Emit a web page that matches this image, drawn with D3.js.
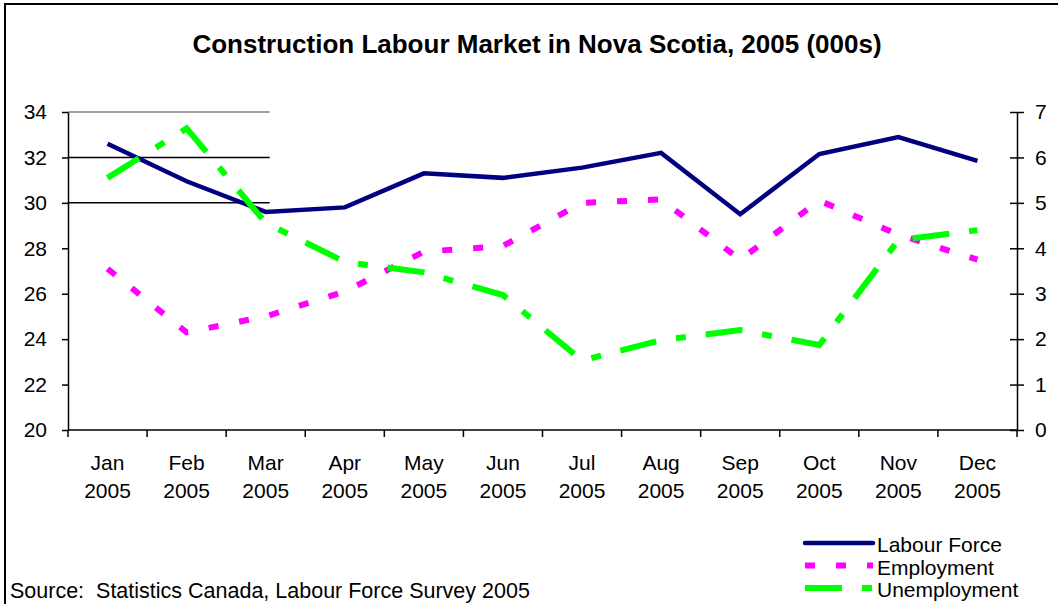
<!DOCTYPE html>
<html>
<head>
<meta charset="utf-8">
<script src="https://cdn.jsdelivr.net/npm/d3@7"></script>
<style>
  html, body { margin: 0; padding: 0; background: #fff; }
  svg { display: block; font-family: "Liberation Sans", Arial, sans-serif; }
</style>
</head>
<body>
<svg id="chart" width="1058" height="604"></svg>
<script>
// values
const months = ["Jan","Feb","Mar","Apr","May","Jun","Jul","Aug","Sep","Oct","Nov","Dec"];
const yearLabel = "2005";
const labourForce  = [32.6, 30.95, 29.6, 29.8, 31.3, 31.1, 31.55, 32.2, 29.5, 32.15, 32.9, 31.85];
const employment   = [27.1, 24.3, 25.0, 26.1, 27.85, 28.1, 30.0, 30.15, 27.5, 30.1, 28.6, 27.5];
const unemployment = [5.55, 6.64, 4.56, 3.7, 3.47, 2.97, 1.53, 1.98, 2.2, 1.87, 4.18, 4.4];
const leftTicks  = [20, 22, 24, 26, 28, 30, 32, 34];
const rightTicks = [0, 1, 2, 3, 4, 5, 6, 7];
const gridTicks  = [30, 32, 34];

const svg = d3.select("#chart");
const plotL = 68, plotR = 1017, plotT = 112, plotB = 430;
const FONT = "Liberation Sans, Arial, sans-serif";

const xBand  = d3.scaleBand().domain(months).range([plotL, plotR]);
const xPoint = d3.scalePoint().domain(months).range([plotL, plotR]).padding(0.5);
const yLeft  = d3.scaleLinear().domain([20, 34]).range([plotB, plotT]);
const yRight = d3.scaleLinear().domain([0, 7]).range([plotB, plotT]);

// outer frame
svg.append("rect")
  .attr("x", 5).attr("y", 4).attr("width", 1060).attr("height", 610)
  .attr("fill", "none").attr("stroke", "#000").attr("stroke-width", 2);

// title
svg.append("text")
  .attr("x", 537).attr("y", 53)
  .attr("text-anchor", "middle")
  .attr("font-size", 26).attr("font-weight", "bold")
  .text("Construction Labour Market in Nova Scotia, 2005 (000s)");

// partial gridlines (as in the original)
const gridEnd = plotL + xBand.step() * 2.55;
svg.append("g").selectAll("line").data(gridTicks).join("line")
  .attr("x1", plotL).attr("x2", gridEnd)
  .attr("y1", d => yLeft(d)).attr("y2", d => yLeft(d))
  .attr("stroke", d => d === 34 ? "#808080" : "#000")
  .attr("stroke-width", 1.5);

// left axis
const gLeft = svg.append("g")
  .attr("transform", `translate(${plotL},0)`)
  .call(d3.axisLeft(yLeft).tickValues(leftTicks).tickSize(6).tickPadding(15).tickSizeOuter(0));
gLeft.selectAll("text").attr("font-size", 21).attr("fill", "#000").attr("font-family", FONT);
gLeft.selectAll("line, path").attr("stroke", "#000").attr("stroke-width", 1.5);

// right axis with crossing ticks
const gRight = svg.append("g")
  .attr("transform", `translate(${plotR},0)`)
  .call(d3.axisRight(yRight).tickValues(rightTicks).tickFormat(d3.format("d"))
    .tickSize(7).tickPadding(11).tickSizeOuter(0));
gRight.selectAll(".tick line").attr("x1", -7);
gRight.selectAll("text").attr("font-size", 21).attr("fill", "#000").attr("font-family", FONT);
gRight.selectAll("line, path").attr("stroke", "#000").attr("stroke-width", 1.5);

// bottom axis: line plus ticks at category boundaries
const gBottom = svg.append("g");
gBottom.append("line")
  .attr("x1", plotL).attr("x2", plotR).attr("y1", plotB).attr("y2", plotB)
  .attr("stroke", "#000").attr("stroke-width", 1.5);
gBottom.selectAll("line.tk").data([...months.map(m => xBand(m)), plotR]).join("line")
  .attr("class", "tk")
  .attr("x1", d => d).attr("x2", d => d)
  .attr("y1", plotB).attr("y2", plotB + 7)
  .attr("stroke", "#000").attr("stroke-width", 1.5);
const labels = gBottom.selectAll("text").data(months).join("text")
  .attr("text-anchor", "middle")
  .attr("font-size", 21);
labels.append("tspan").attr("x", d => xPoint(d)).attr("y", 470).text(d => d);
labels.append("tspan").attr("x", d => xPoint(d)).attr("y", 498).text(yearLabel);

// series
const series = [
  { name: "Labour Force", values: labourForce,  y: yLeft,  color: "#000080", width: 4.5, dash: null },
  { name: "Employment",   values: employment,   y: yLeft,  color: "#FF00FF", width: 6,   dash: "10,21" },
  { name: "Unemployment", values: unemployment, y: yRight, color: "#00FF00", width: 6,   dash: "37,20,10,20" }
];

for (const s of series) {
  const line = d3.line()
    .x((_, i) => xPoint(months[i]))
    .y(d => s.y(d));
  svg.append("path")
    .datum(s.values)
    .attr("d", line)
    .attr("fill", "none")
    .attr("stroke", s.color)
    .attr("stroke-width", s.width)
    .attr("stroke-dasharray", s.dash)
    .attr("stroke-linejoin", "miter");
}

// legend
const legend = svg.append("g").attr("transform", "translate(805,543)");
const lg = legend.selectAll("g").data(series).join("g")
  .attr("transform", (_, i) => `translate(0,${i * 22.5})`);
lg.append("line")
  .attr("x1", 0).attr("x2", 68).attr("y1", 0).attr("y2", 0)
  .attr("stroke", d => d.color)
  .attr("stroke-width", d => d.width)
  .attr("stroke-dasharray", d => d.dash)
  .attr("stroke-linecap", d => d.dash ? "butt" : "round");
lg.append("text")
  .attr("x", 72).attr("y", 9)
  .attr("font-size", 21)
  .text(d => d.name);

// source note
svg.append("text")
  .attr("x", 10).attr("y", 598)
  .attr("font-size", 21.5)
  .style("white-space", "pre")
  .text("Source:  Statistics Canada, Labour Force Survey 2005");
</script>
</body>
</html>
